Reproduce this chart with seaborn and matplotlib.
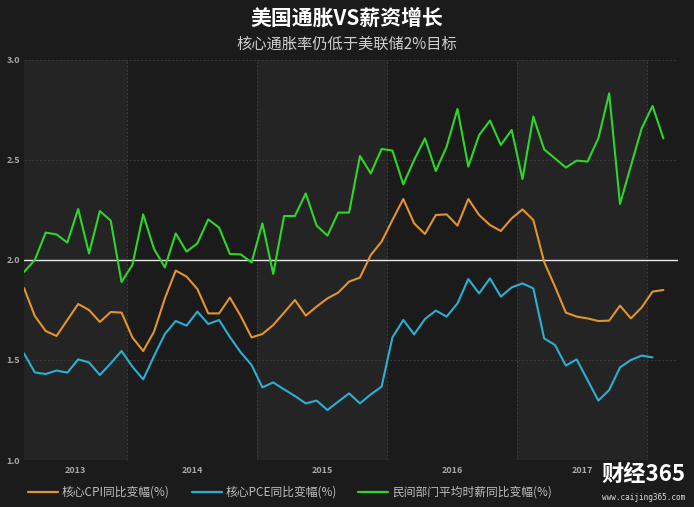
import numpy as np
import pandas as pd
import matplotlib
matplotlib.use("Agg")
import matplotlib.pyplot as plt
from matplotlib.lines import Line2D
import seaborn as sns

# ---- data (monthly, starting Mar 2013) ----
core_cpi = [1.86, 1.72, 1.645, 1.62, 1.70, 1.78, 1.75, 1.69, 1.74, 1.737,
            1.613, 1.545, 1.642, 1.808, 1.947, 1.917, 1.855, 1.733, 1.733, 1.812,
            1.72, 1.613, 1.63, 1.675, 1.737, 1.80, 1.722, 1.767, 1.808, 1.837,
            1.892, 1.912, 2.025, 2.092, 2.20, 2.305, 2.183, 2.13, 2.225, 2.228,
            2.172, 2.305, 2.225, 2.175, 2.145, 2.208, 2.253, 2.20, 1.99, 1.867,
            1.737, 1.717, 1.708, 1.695, 1.697, 1.772, 1.708, 1.763, 1.842, 1.85]
core_pce = [1.533, 1.438, 1.43, 1.447, 1.437, 1.503, 1.488, 1.425, 1.483, 1.545,
            1.467, 1.403, 1.52, 1.63, 1.695, 1.672, 1.742, 1.68, 1.70, 1.615,
            1.538, 1.475, 1.363, 1.388, 1.353, 1.32, 1.283, 1.297, 1.25, 1.292,
            1.333, 1.283, 1.328, 1.367, 1.613, 1.70, 1.628, 1.705, 1.747, 1.717,
            1.783, 1.905, 1.833, 1.908, 1.817, 1.863, 1.883, 1.858, 1.608, 1.575,
            1.472, 1.503, 1.40, 1.297, 1.35, 1.463, 1.50, 1.522, 1.513]
wages = [1.94, 2.0, 2.137, 2.128, 2.087, 2.255, 2.033, 2.245, 2.197, 1.89,
         1.975, 2.228, 2.055, 1.963, 2.133, 2.042, 2.083, 2.203, 2.162, 2.03,
         2.028, 1.988, 2.183, 1.93, 2.22, 2.22, 2.333, 2.172, 2.122, 2.237,
         2.237, 2.52, 2.433, 2.555, 2.547, 2.378, 2.50, 2.608, 2.445, 2.567,
         2.755, 2.467, 2.625, 2.697, 2.575, 2.65, 2.405, 2.717, 2.553, 2.508,
         2.462, 2.497, 2.492, 2.608, 2.833, 2.28, 2.47, 2.658, 2.77, 2.608]
series_names = ["核心CPI同比变幅(%)", "核心PCE同比变幅(%)", "民间部门平均时薪同比变幅(%)"]
series_colors = ["#e3942c", "#2bb0d2", "#2fd62a"]
years = ["2013", "2014", "2015", "2016", "2017"]
y_ticks = [1.0, 1.5, 2.0, 2.5, 3.0]
target = 2.0

n = len(wages)
month = np.arange(n)
rows = []
for name, vals in zip(series_names, [core_cpi, core_pce, wages]):
    for i, v in enumerate(vals):
        rows.append({"month": month[i], "value": v, "series": name})
df = pd.DataFrame(rows)

# ---- style ----
sns.set_theme(style="dark")
plt.rcParams["font.family"] = ["Noto Sans CJK SC", "DejaVu Sans"]
BG = "#1b1b1b"
BAND = "#242424"

fig = plt.figure(figsize=(6.94, 5.07), dpi=100, facecolor=BG)
ax = fig.add_axes([24 / 694, 1 - 460 / 507, (678 - 24) / 694, 400 / 507])
ax.set_facecolor(BG)

# year bands (Jan boundaries fall half a month before each January point)
bounds = [0, 9.5, 21.5, 33.5, 45.5, 57.5, 60.35]
for k in range(len(bounds) - 1):
    if k % 2 == 0:
        ax.axvspan(bounds[k], bounds[k + 1], color=BAND, lw=0, zorder=0)
for b in bounds[1:-1]:
    ax.axvline(b, color="#3a3a3a", lw=0.8, ls=(0, (2, 1.5)), zorder=0.5)
for yv in y_ticks:
    if yv != target:
        ax.axhline(yv, color="#393939", lw=0.8, ls=(0, (2, 1.5)), zorder=0.5)
ax.axhline(target, color="#e8e8e8", lw=1.0, zorder=1)

sns.lineplot(data=df, x="month", y="value", hue="series", hue_order=series_names,
             palette=series_colors, linewidth=1.5, ax=ax, legend=False, zorder=3)

ax.set_xlim(0, 60.35)
ax.set_ylim(1.0, 3.0)
ax.set_yticks(y_ticks)
ax.set_yticklabels([f"{v:.1f}" for v in y_ticks], color="#a8a8a8", fontsize=6.5,
                   fontweight="bold")
centers = [(bounds[k] + bounds[k + 1]) / 2 for k in range(len(years))]
ax.set_xticks(centers)
ax.set_xticklabels(years, color="#a8a8a8", fontsize=6.5, fontweight="bold")
ax.tick_params(axis="both", length=0, pad=4)
ax.tick_params(axis="y", pad=3)
ax.set_xlabel("")
ax.set_ylabel("")
ax.grid(False)
for s in ax.spines.values():
    s.set_visible(False)

# ---- titles ----
fig.text(0.5, 1 - 18 / 507, "美国通胀VS薪资增长", ha="center", va="center",
         color="white", fontsize=15, fontweight="bold")
fig.text(0.5, 1 - 44 / 507, "核心通胀率仍低于美联储2%目标", ha="center", va="center",
         color="#cfcfcf", fontsize=11)

# ---- legend ----
leg_y = 1 - 492 / 507
leg_x = [28, 192, 358]
for x0, name, col in zip(leg_x, series_names, series_colors):
    fig.add_artist(Line2D([x0 / 694, (x0 + 30) / 694], [leg_y, leg_y], color=col, lw=1.6))
    fig.text((x0 + 34) / 694, leg_y, name, ha="left", va="center", color="#bdbdbd",
             fontsize=8.5)

# ---- watermark ----
fig.text(643 / 694, 1 - 474 / 507, "财经365", ha="center", va="center", color="white",
         fontsize=16, fontweight="heavy")
fig.text(644 / 694, 1 - 498 / 507, "www.caijing365.com", ha="center", va="center",
         color="#e0e0e0", fontsize=5.5, family=["DejaVu Sans Mono", "DejaVu Sans"])

fig.savefig("out.png", dpi=100, facecolor=BG)
